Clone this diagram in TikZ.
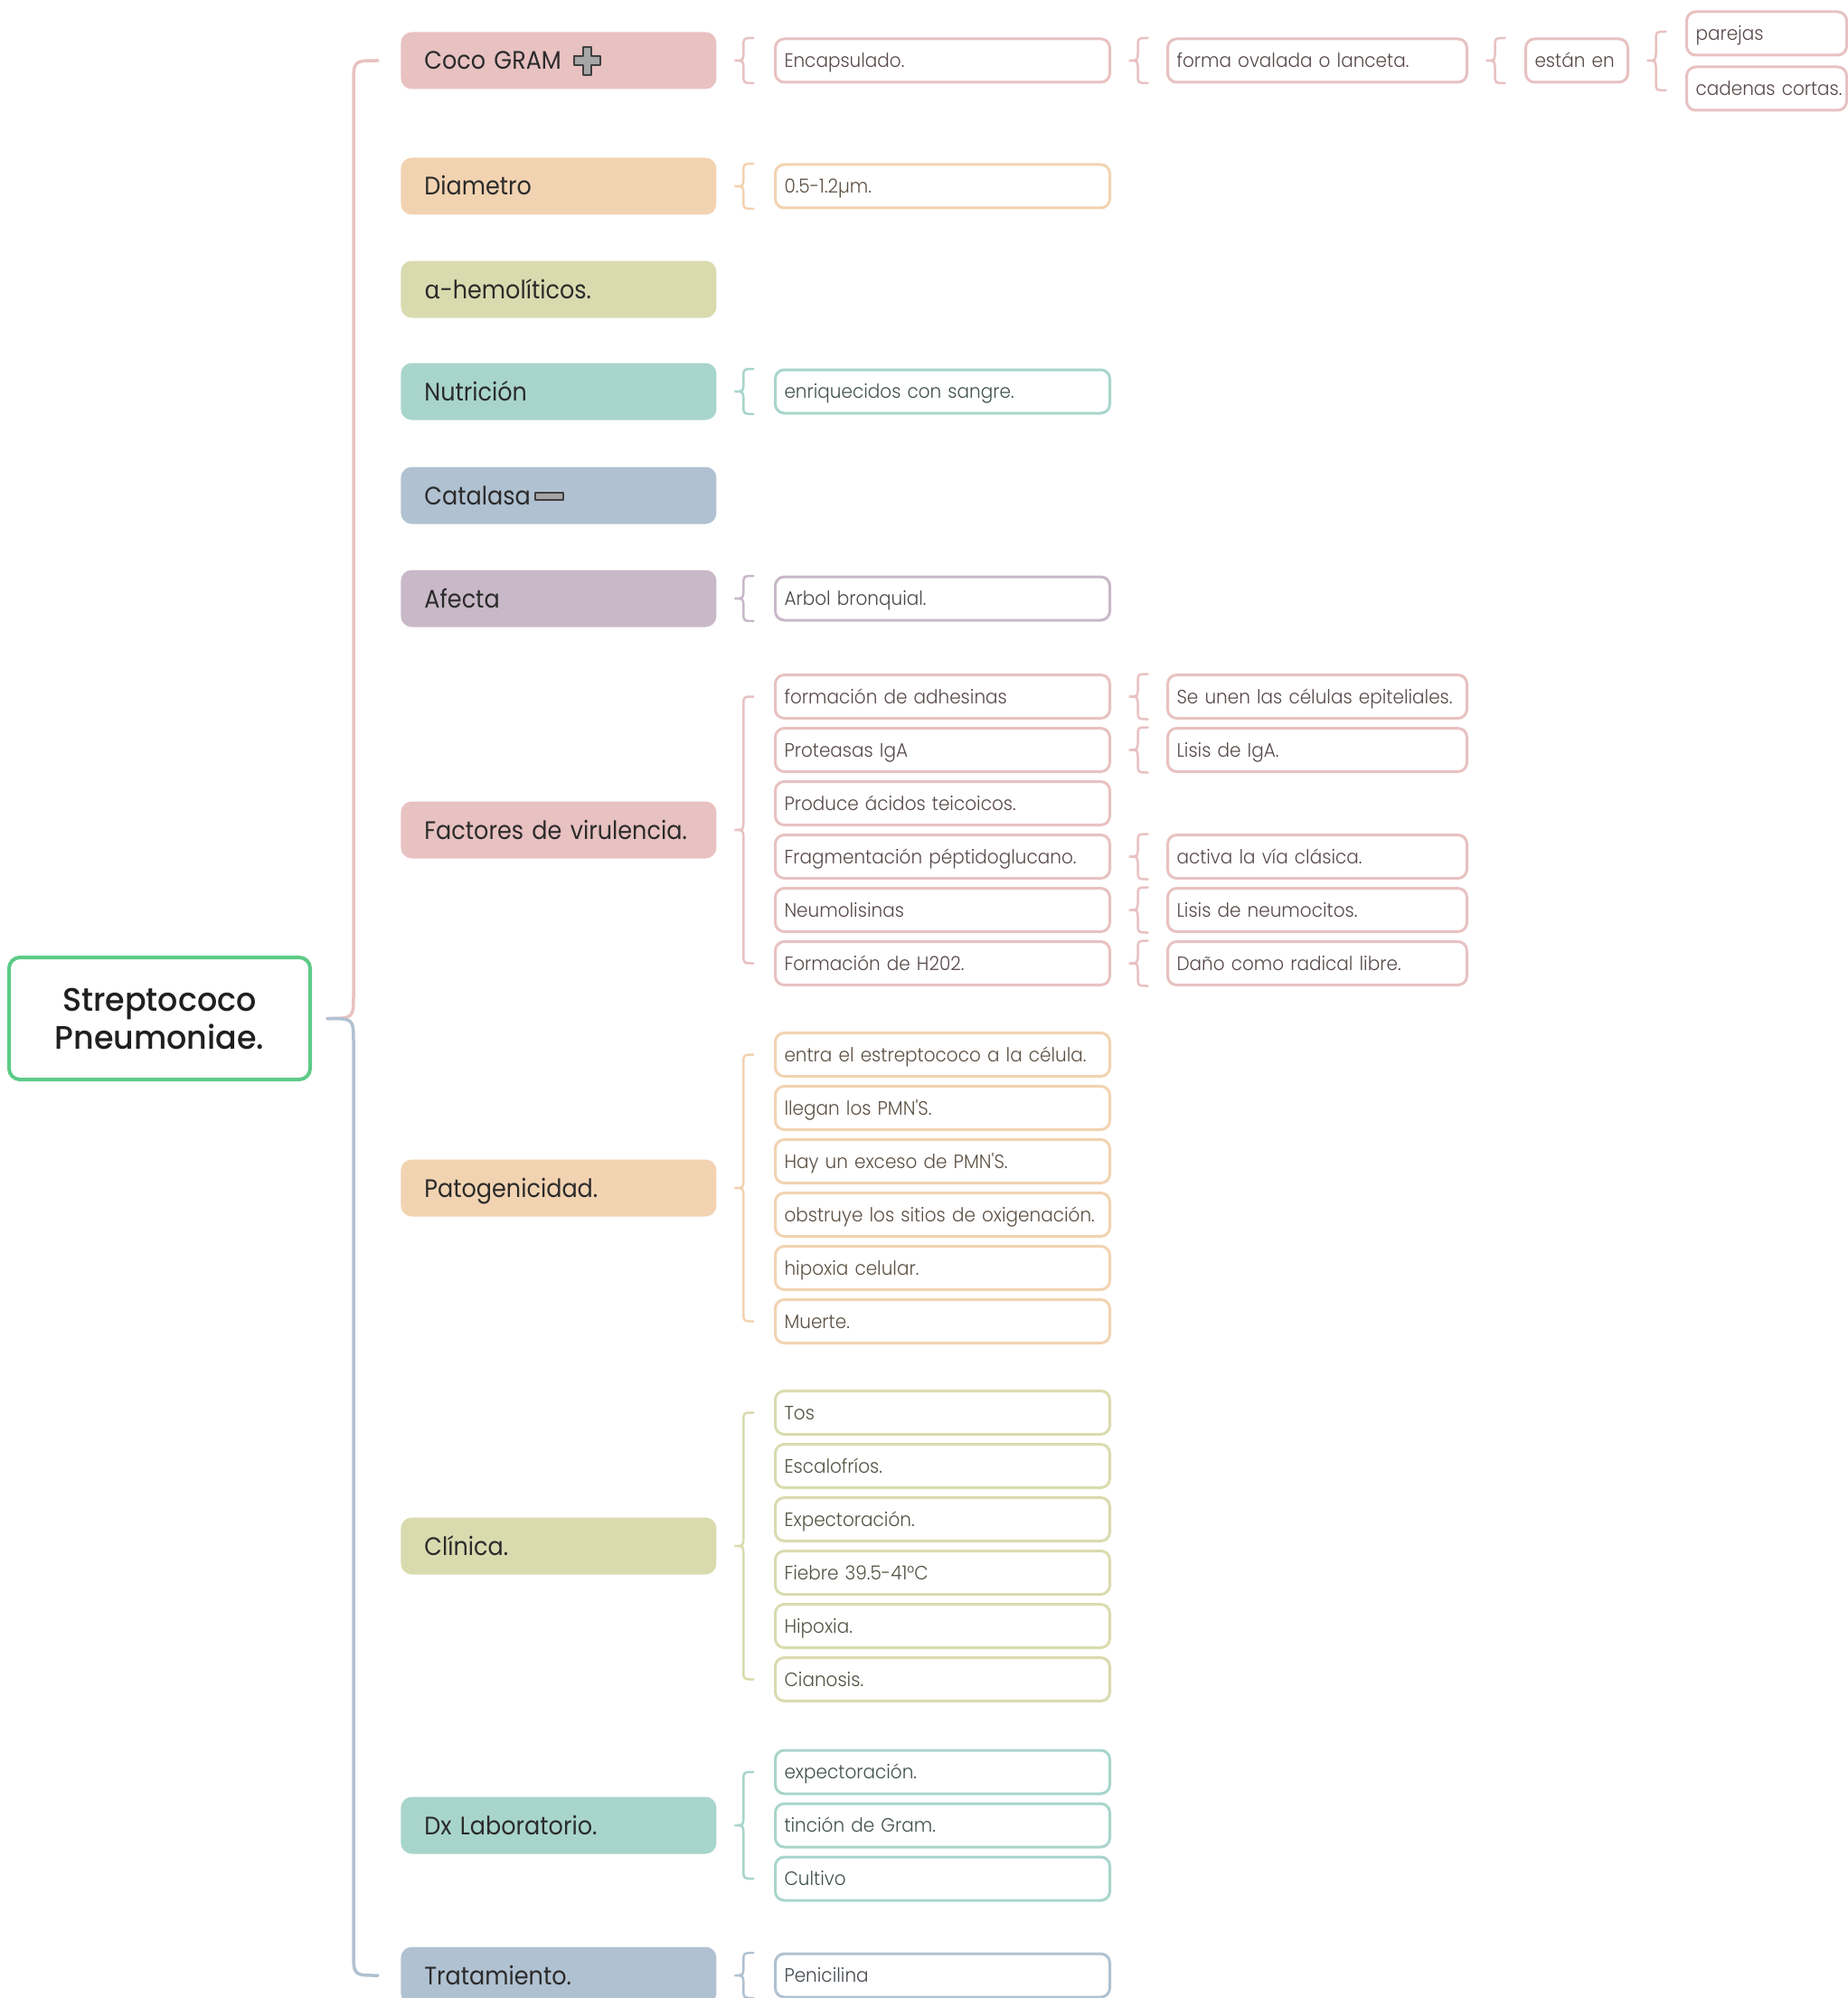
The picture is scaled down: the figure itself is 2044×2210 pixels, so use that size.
\documentclass[tikz,border=0pt]{standalone}
\usepackage{fontspec}
\setmainfont{Poppins}[FakeStretch=0.91]
\newfontfamily\rootfont{Poppins Medium}[FakeStretch=0.97]
\newfontfamily\leaffont{Poppins Light}[FakeStretch=0.935]
\newfontfamily\greekfont{Noto Sans}
\usetikzlibrary{calc}

\definecolor{rosa}{HTML}{E8C1C1}
\definecolor{durazno}{HTML}{F2D3B1}
\definecolor{oliva}{HTML}{D9DBAF}
\definecolor{menta}{HTML}{A8D5CB}
\definecolor{pizarra}{HTML}{B0C1D1}
\definecolor{malva}{HTML}{C8B8C8}
\definecolor{verderaiz}{HTML}{5DCB87}
\definecolor{tinta}{HTML}{2B2B2B}

% curly brace from a parent node to its first..last child
% #1 colour, #2 parent, #3 first child, #4 last child, #5 extra reach above/below
\newcommand\llave[5]{%
  \draw[llavetrazo=#1] let \p1=(#2.east), \p2=(#3.west), \p3=(#4.west) in
    ({\x1+20.25pt},{\y2+#5}) .. controls ({\x1+14.75pt},{\y2+#5}) .. ({\x1+14.75pt},{\y2+#5-5pt})
    -- ({\x1+14.75pt},{\y1+5pt}) .. controls ({\x1+14.75pt},{\y1}) .. ({\x1+9.75pt},{\y1})
    .. controls ({\x1+14.75pt},{\y1}) .. ({\x1+14.75pt},{\y1-5pt})
    -- ({\x1+14.75pt},{\y3-#5+5pt}) .. controls ({\x1+14.75pt},{\y3-#5}) .. ({\x1+20.25pt},{\y3-#5});
}

\tikzset{
  unalinea/.style={execute at begin node={\hbox\bgroup}, execute at end node={\egroup}},
  raiz/.style={draw=verderaiz, line width=2pt, rounded corners=6pt, fill=white,
    minimum width=166.5pt, minimum height=67.5pt, align=center, text=black!88,
    font=\rootfont\fontsize{18}{21}\selectfont},
  tema/.style={fill=#1, rounded corners=6pt, anchor=west, minimum height=31.5pt,
    text width=148.5pt, inner xsep=13pt, inner ysep=0pt, align=left, text=tinta,
    text height=10pt, text depth=0pt, unalinea,
    font=\fontsize{14}{16}\selectfont},
  hoja/.style={draw=#1, fill=white, line width=1.5pt, rounded corners=5pt, anchor=west,
    minimum height=24pt, inner xsep=5pt, inner ysep=0pt, align=left, text=#1!38!black,
    text height=7.6pt, text depth=0pt, unalinea,
    font=\leaffont\fontsize{10.7}{12}\selectfont},
  hojaA/.style={hoja=#1, text width=175pt},
  hojaB/.style={hoja=#1, text width=155.5pt},
  hojaC/.style={hoja=#1, text width=46.5pt},
  hojaD/.style={hoja=#1, text width=78.5pt},
  llavetrazo/.style={draw=#1, line width=1.25pt, line cap=round},
  rama/.style={draw=#1, line width=1.75pt, line cap=round},
  icono/.style={fill=black!35, draw=black!75, line width=0.6pt, line join=round},
}

\begin{document}
\begin{tikzpicture}[x=0.5pt,y=-0.5pt]
\useasboundingbox (0,0) rectangle (2044,2210);

% central topic
\node[raiz] (root) at (176.5,1126.5) {Streptococo\\Pneumoniae.};

% main topics
\node[tema=rosa]    (coco) at (443,67)   {Coco GRAM};
\node[tema=durazno] (diam) at (443,206)  {Diametro};
\node[tema=oliva]   (alfa) at (443,320)  {{\greekfont α}-hemolíticos.};
\node[tema=menta]   (nutr) at (443,433)  {Nutrición};
\node[tema=pizarra] (cata) at (443,548)  {Catalasa};
\node[tema=malva]   (afec) at (443,662)  {Afecta};
\node[tema=rosa]    (fact) at (443,918)  {Factores de virulencia.};
\node[tema=durazno] (pato) at (443,1314) {Patogenicidad.};
\node[tema=oliva]   (clin) at (443,1710) {Clínica.};
\node[tema=menta]   (dx)   at (443,2019) {Dx Laboratorio.};
\node[tema=pizarra] (trat) at (443,2185) {Tratamiento.};

% plus sign after "Coco GRAM"
\draw[icono] (645,52) -- (654,52) -- (654,62) -- (664,62) -- (664,72) -- (654,72)
  -- (654,83) -- (645,83) -- (645,72) -- (635,72) -- (635,62) -- (645,62) -- cycle;
% minus sign after "Catalasa"
\draw[icono] (592,545) rectangle (623,553);

% main connector
\draw[rama=rosa] let \p1=(root.east), \p2=(coco.west) in
  ({\x1+36.5pt},{\y2}) .. controls ({\x1+23pt},{\y2}) .. ({\x1+23pt},{\y2-13.5pt})
  -- ({\x1+23pt},{\y1+13.5pt}) .. controls ({\x1+23pt},{\y1}) .. ({\x1+8.5pt},{\y1});
\draw[rama=pizarra] let \p1=(root.east), \p3=(trat.west) in
  ({\x1+8.5pt},{\y1}) .. controls ({\x1+23pt},{\y1}) .. ({\x1+23pt},{\y1-13.5pt})
  -- ({\x1+23pt},{\y3+13.5pt}) .. controls ({\x1+23pt},{\y3}) .. ({\x1+36.5pt},{\y3});

% Coco GRAM chain
\node[hojaA=rosa] (enc)   at (856,67)  {Encapsulado.};
\node[hojaB=rosa] (forma) at (1290,67) {forma ovalada o lanceta.};
\node[hojaC=rosa] (esta)  at (1686,67) {están en};
\node[hojaD=rosa] (par)   at (1864,37) {parejas};
\node[hojaD=rosa] (cad)   at (1864,98) {cadenas cortas.};
\llave{rosa}{coco}{enc}{enc}{12.5pt}
\llave{rosa}{enc}{forma}{forma}{12.5pt}
\llave{rosa}{forma}{esta}{esta}{12.5pt}
\llave{rosa}{esta}{par}{cad}{1pt}

% single-child topics
\node[hojaA=durazno] (diam1) at (856,206) {0.5-1.2µm.};
\llave{durazno}{diam}{diam1}{diam1}{12.5pt}
\node[hojaA=menta] (nutr1) at (856,433) {enriquecidos con sangre.};
\llave{menta}{nutr}{nutr1}{nutr1}{12.5pt}
\node[hojaA=malva] (afec1) at (856,662) {Arbol bronquial.};
\llave{malva}{afec}{afec1}{afec1}{12.5pt}

% virulence factors
\node[hojaA=rosa] (f1) at (856,770.5)  {formación de adhesinas};
\node[hojaA=rosa] (f2) at (856,829.5)  {Proteasas IgA};
\node[hojaA=rosa] (f3) at (856,888.5)  {Produce ácidos teicoicos.};
\node[hojaA=rosa] (f4) at (856,947.5)  {Fragmentación péptidoglucano.};
\node[hojaA=rosa] (f5) at (856,1006.5) {Neumolisinas};
\node[hojaA=rosa] (f6) at (856,1065.5) {Formación de H202.};
\llave{rosa}{fact}{f1}{f6}{0pt}
\node[hojaB=rosa] (f1b) at (1290,770.5)  {Se unen las células epiteliales.};
\node[hojaB=rosa] (f2b) at (1290,829.5)  {Lisis de IgA.};
\node[hojaB=rosa] (f4b) at (1290,947.5)  {activa la vía clásica.};
\node[hojaB=rosa] (f5b) at (1290,1006.5) {Lisis de neumocitos.};
\node[hojaB=rosa] (f6b) at (1290,1065.5) {Daño como radical libre.};
\llave{rosa}{f1}{f1b}{f1b}{12.5pt}
\llave{rosa}{f2}{f2b}{f2b}{12.5pt}
\llave{rosa}{f4}{f4b}{f4b}{12.5pt}
\llave{rosa}{f5}{f5b}{f5b}{12.5pt}
\llave{rosa}{f6}{f6b}{f6b}{12.5pt}

% pathogenicity
\node[hojaA=durazno] (p1) at (856,1166.5) {entra el estreptococo a la célula.};
\node[hojaA=durazno] (p2) at (856,1225.5) {llegan los PMN'S.};
\node[hojaA=durazno] (p3) at (856,1284.5) {Hay un exceso de PMN'S.};
\node[hojaA=durazno] (p4) at (856,1343.5) {obstruye los sitios de oxigenación.};
\node[hojaA=durazno] (p5) at (856,1402.5) {hipoxia celular.};
\node[hojaA=durazno] (p6) at (856,1461.5) {Muerte.};
\llave{durazno}{pato}{p1}{p6}{0pt}

% clinical picture
\node[hojaA=oliva] (c1) at (856,1562.5) {Tos};
\node[hojaA=oliva] (c2) at (856,1621.5) {Escalofríos.};
\node[hojaA=oliva] (c3) at (856,1680.5) {Expectoración.};
\node[hojaA=oliva] (c4) at (856,1739.5) {Fiebre 39.5-41°C};
\node[hojaA=oliva] (c5) at (856,1798.5) {Hipoxia.};
\node[hojaA=oliva] (c6) at (856,1857.5) {Cianosis.};
\llave{oliva}{clin}{c1}{c6}{0pt}

% laboratory diagnosis
\node[hojaA=menta] (d1) at (856,1960) {expectoración.};
\node[hojaA=menta] (d2) at (856,2019) {tinción de Gram.};
\node[hojaA=menta] (d3) at (856,2078) {Cultivo};
\llave{menta}{dx}{d1}{d3}{0pt}

% treatment
\node[hojaA=pizarra] (t1) at (856,2185) {Penicilina};
\llave{pizarra}{trat}{t1}{t1}{12.5pt}
\end{tikzpicture}
\end{document}
